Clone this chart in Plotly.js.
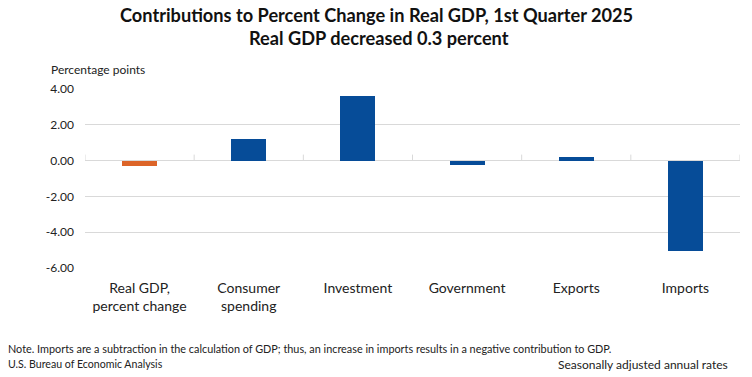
<!DOCTYPE html>
<html>
<head>
<meta charset="utf-8">
<script src="https://cdn.plot.ly/plotly-3.0.1.min.js"></script>
<style>html,body{margin:0;padding:0;background:#fff;}#chart{width:752px;height:377px;}</style>
</head>
<body>
<div id="chart"></div>
<script>
const categories = ["Real GDP,<br>percent change", "Consumer<br>spending", "Investment", "Government", "Exports", "Imports"];
const contributions = [-0.3, 1.21, 3.60, -0.25, 0.19, -5.03];
const yTickValues = [-6, -4, -2, 0, 2, 4];
const yTickLabels = ["-6.00", "-4.00", "-2.00", "0.00", "2.00", "4.00"];

const BLUE = "#064C98";
const ORANGE = "#DC6428";
const barColors = categories.map((c, i) => i === 0 ? ORANGE : BLUE);
const FONT = "Lato, 'Open Sans', sans-serif";

const trace = {
  type: "bar",
  x: categories.map((c, i) => i),
  y: contributions,
  marker: {color: barColors},
  width: 0.32,
  hoverinfo: "skip"
};

// small tick marks at category boundaries on the zero line
const boundaryShapes = [];
for (let i = 0; i <= categories.length; i++) {
  boundaryShapes.push({
    type: "line", xref: "x", yref: "y", ysizemode: "pixel", yanchor: 0,
    x0: i - 0.5, x1: i - 0.5, y0: 0, y1: 6,
    line: {color: "#d9d9d9", width: 1}
  });
}

const titleX = (376 - 85) / 655;

const layout = {
  width: 752, height: 377,
  margin: {l: 85, r: 12, t: 89, b: 109},
  paper_bgcolor: "#fff", plot_bgcolor: "#fff",
  font: {family: FONT, color: "#222", size: 13},
  showlegend: false,
  bargap: 0,
  xaxis: {
    type: "linear",
    range: [-0.5, categories.length - 0.5],
    tickmode: "array",
    tickvals: categories.map((c, i) => i),
    ticktext: categories,
    showgrid: false, zeroline: false, showline: false,
    ticks: "", ticklabelstandoff: 10,
    tickfont: {size: 14, color: "#222"}
  },
  yaxis: {
    range: [-6, 4],
    tickmode: "array",
    tickvals: yTickValues,
    ticktext: yTickLabels,
    showgrid: true, gridcolor: "#d9d9d9", gridwidth: 1,
    zeroline: true, zerolinecolor: "#d9d9d9", zerolinewidth: 1,
    showline: false, ticks: "", ticklabelstandoff: 10,
    tickfont: {size: 12, color: "#222"}
  },
  shapes: boundaryShapes,
  annotations: [
    {text: "<b>Contributions to Percent Change in Real GDP, 1st Quarter 2025</b>", xref: "paper", yref: "paper", x: titleX, xanchor: "center", y: 1, yshift: 74, yanchor: "middle", showarrow: false, font: {size: 18.2, color: "#111"}},
    {text: "<b>Real GDP decreased 0.3 percent</b>", xref: "paper", yref: "paper", x: titleX, xshift: 3, xanchor: "center", y: 1, yshift: 51, yanchor: "middle", showarrow: false, font: {size: 18.2, color: "#111"}},
    {text: "Percentage points", xref: "paper", yref: "paper", x: 0, xshift: -36, xanchor: "left", y: 1, yshift: 20, yanchor: "middle", showarrow: false, font: {size: 12, color: "#222"}},
    {text: "Note. Imports are a subtraction in the calculation of GDP; thus, an increase in imports results in a negative contribution to GDP.", xref: "paper", yref: "paper", x: 0, xshift: -79, xanchor: "left", y: 0, yshift: -80, yanchor: "middle", showarrow: false, font: {size: 10.85, color: "#222"}},
    {text: "U.S. Bureau of Economic Analysis", xref: "paper", yref: "paper", x: 0, xshift: -79, xanchor: "left", y: 0, yshift: -96, yanchor: "middle", showarrow: false, font: {size: 10.6, color: "#222"}},
    {text: "Seasonally adjusted annual rates", xref: "paper", yref: "paper", x: 1, xshift: -10, xanchor: "right", y: 0, yshift: -96, yanchor: "middle", showarrow: false, font: {size: 12, color: "#222"}}
  ]
};

Plotly.newPlot("chart", [trace], layout, {displayModeBar: false, staticPlot: true});
</script>
</body>
</html>
